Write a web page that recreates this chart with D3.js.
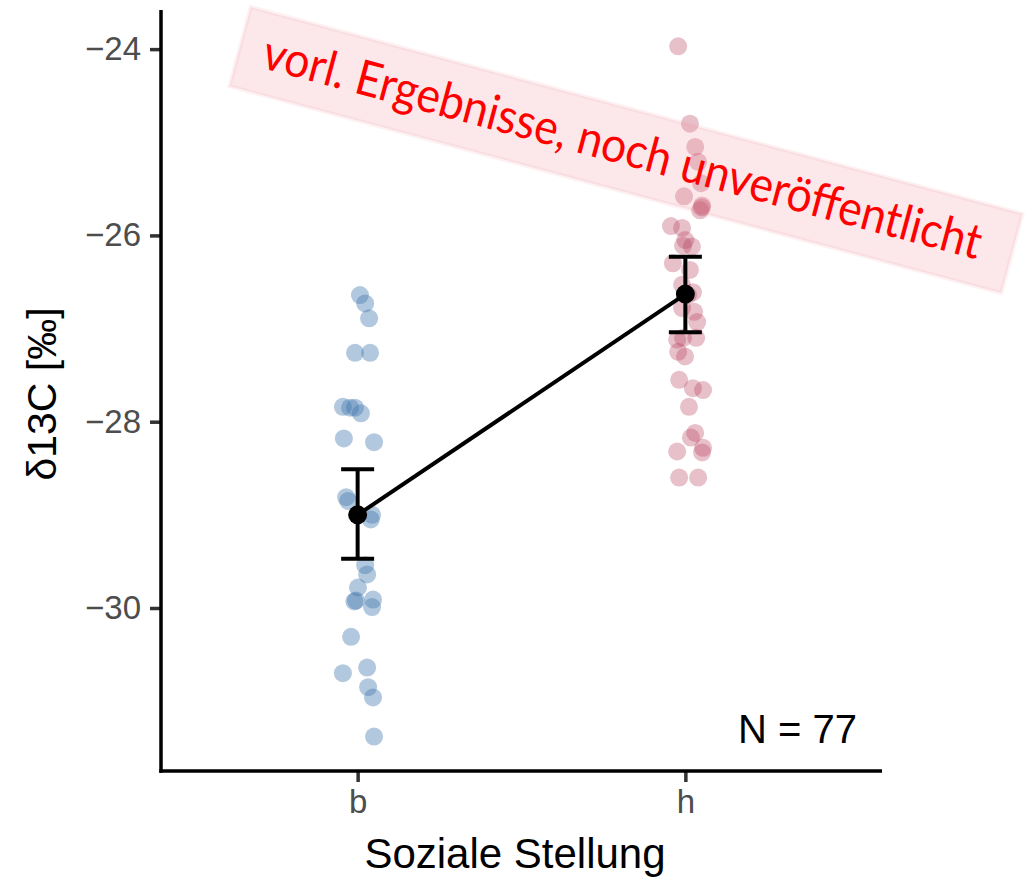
<!DOCTYPE html>
<html>
<head>
<meta charset="utf-8">
<script src="https://cdn.jsdelivr.net/npm/d3@7"></script>
<style>
  html, body { margin: 0; padding: 0; background: #ffffff; }
  svg { display: block; }
</style>
</head>
<body>
<svg id="chart" width="1025" height="880"></svg>
<script>
// ---------------- data ----------------
const categories = ["b", "h"];
const xTitle = "Soziale Stellung";
const yTitle = "δ13C [‰]";
const yTicks = [-24, -26, -28, -30];
const nLabel = "N = 77";
const watermark = "vorl. Ergebnisse, noch unveröffentlicht";

// individual observations (value) and horizontal jitter (in category units)
const bValues = [-26.64, -26.73, -26.89, -27.26, -27.26, -27.84, -27.85, -27.85, -27.91, -28.18,
                 -28.22, -28.81, -28.85, -29.00, -29.54, -29.64, -29.78, -29.92, -29.91, -29.99,
                 -30.31, -30.70, -30.64, -30.85, -30.96, -31.38, -29.93, -29.05];
const bJitter = [0.007, 0.023, 0.035, -0.008, 0.038, -0.045, -0.023, -0.008, 0.010, -0.042,
                 0.050, -0.035, -0.029, 0.044, 0.023, 0.029, 0.001, -0.005, 0.047, 0.044,
                 -0.020, -0.045, 0.029, 0.032, 0.047, 0.050, -0.010, 0.040];
const hValues = [-23.97, -24.80, -25.05, -25.21, -25.44, -25.58, -25.68, -25.73, -25.90, -25.92,
                 -26.11, -26.12, -26.30, -26.53, -26.61, -26.78, -26.82, -26.93, -27.10, -27.12,
                 -27.10, -27.25, -27.30, -27.55, -27.64, -27.66, -27.84, -28.12, -28.17, -28.28,
                 -28.32, -28.33, -28.60, -28.60, -26.64, -26.37, -25.70, -26.05];
const hJitter = [-0.022, 0.014, 0.030, 0.039, 0.048, -0.004, 0.051, 0.045, -0.044, -0.010,
                 -0.007, 0.020, -0.038, -0.010, 0.023, -0.010, 0.027, 0.036, 0.033, -0.025,
                 -0.007, -0.022, -0.001, -0.019, 0.023, 0.054, 0.011, 0.030, 0.017, 0.054,
                 -0.025, 0.051, -0.019, 0.039, 0.008, 0.014, 0.050, 0.000];

// group means and interval limits
const means = [-29.00, -26.63];
const lower = [-29.47, -27.04];
const upper = [-28.51, -26.23];

const pointColors = ["#3f75ad", "#b43c5a"];

// ---------------- drawing ----------------
const svg = d3.select("#chart");
const font = "'Liberation Sans', Arial, Helvetica, sans-serif";

const plot = { left: 161, right: 882, top: 10, bottom: 771 };

const x = d3.scalePoint().domain(categories).range([plot.left, plot.right]).padding(0.6);
const y = d3.scaleLinear().domain([-31.75, -23.58]).range([plot.bottom, plot.top]);
const step = x.step();

// points
const groups = [
  { cat: "b", values: bValues, jitter: bJitter, color: pointColors[0], op: 0.4 },
  { cat: "h", values: hValues, jitter: hJitter, color: pointColors[1], op: 0.32 }
];
groups.forEach(g => {
  svg.append("g").selectAll("circle")
    .data(g.values.map((v, i) => ({ v, j: g.jitter[i] })))
    .join("circle")
    .attr("cx", d => x(g.cat) + d.j * step)
    .attr("cy", d => y(d.v))
    .attr("r", 9)
    .attr("fill", g.color)
    .attr("fill-opacity", g.op);
});

// mean line
const summary = categories.map((c, i) => ({ c, m: means[i], lo: lower[i], hi: upper[i] }));
svg.append("path")
  .datum(summary)
  .attr("d", d3.line().x(d => x(d.c)).y(d => y(d.m)))
  .attr("fill", "none").attr("stroke", "#000").attr("stroke-width", 4);

// error bars
const eb = svg.append("g").attr("stroke", "#000").attr("stroke-width", 4);
summary.forEach(d => {
  eb.append("line").attr("x1", x(d.c)).attr("x2", x(d.c)).attr("y1", y(d.lo)).attr("y2", y(d.hi));
  eb.append("line").attr("x1", x(d.c) - 16.5).attr("x2", x(d.c) + 16.5).attr("y1", y(d.lo)).attr("y2", y(d.lo));
  eb.append("line").attr("x1", x(d.c) - 16.5).attr("x2", x(d.c) + 16.5).attr("y1", y(d.hi)).attr("y2", y(d.hi));
});
svg.append("g").selectAll("circle").data(summary).join("circle")
  .attr("cx", d => x(d.c)).attr("cy", d => y(d.m)).attr("r", 9.5).attr("fill", "#000");

// axes
const yAxis = svg.append("g")
  .attr("transform", `translate(${plot.left},0)`)
  .call(d3.axisLeft(y).tickValues(yTicks).tickSize(11).tickPadding(9)
        .tickFormat(d => String(d).replace("-", "\u2212")));
const xAxis = svg.append("g")
  .attr("transform", `translate(0,${plot.bottom})`)
  .call(d3.axisBottom(x).tickSize(11).tickPadding(8));

[yAxis, xAxis].forEach(a => {
  a.select(".domain").remove();
  a.selectAll(".tick line").attr("stroke", "#333").attr("stroke-width", 3.5);
  a.selectAll(".tick text").attr("fill", "#4d4d4d").style("font-family", font).style("font-size", "33px");
});
// axis lines
svg.append("line").attr("x1", plot.left).attr("x2", plot.left).attr("y1", plot.top).attr("y2", plot.bottom + 1.75)
  .attr("stroke", "#000").attr("stroke-width", 3.5);
svg.append("line").attr("x1", plot.left - 1.75).attr("x2", plot.right).attr("y1", plot.bottom).attr("y2", plot.bottom)
  .attr("stroke", "#000").attr("stroke-width", 3.5);

// titles
svg.append("text")
  .attr("x", 515).attr("y", 868)
  .attr("text-anchor", "middle")
  .style("font-family", font).style("font-size", "42px").attr("fill", "#000")
  .text(xTitle);
svg.append("text")
  .attr("transform", "translate(56,394) rotate(-90)")
  .attr("text-anchor", "middle")
  .style("font-family", font).style("font-size", "41px").attr("fill", "#000")
  .text(yTitle);

// N label
svg.append("text")
  .attr("x", 857).attr("y", 743)
  .attr("text-anchor", "end")
  .style("font-family", font).style("font-size", "40px").attr("fill", "#000")
  .text(nLabel);

// watermark
const wm = svg.append("g").attr("transform", "translate(626,150) rotate(15)");
wm.append("rect")
  .attr("x", -399.5).attr("y", -41).attr("width", 799).attr("height", 82)
  .attr("fill", "rgb(240,150,160)").attr("fill-opacity", 0.22)
  .attr("stroke", "rgb(240,150,160)").attr("stroke-opacity", 0.12).attr("stroke-width", 4);
const wt = wm.append("text")
  .attr("x", 0).attr("y", 0)
  .attr("transform", "translate(-4,15) scale(1,1.1)")
  .attr("text-anchor", "middle")
  .style("font-family", "Lato, 'Open Sans', sans-serif").style("font-size", "44px")
  .attr("fill", "#ff0000")
  .text(watermark);
const targetW = 742;
const w0 = wt.node().getComputedTextLength();
wt.style("font-size", (44 * targetW / w0).toFixed(1) + "px");
</script>
</body>
</html>
